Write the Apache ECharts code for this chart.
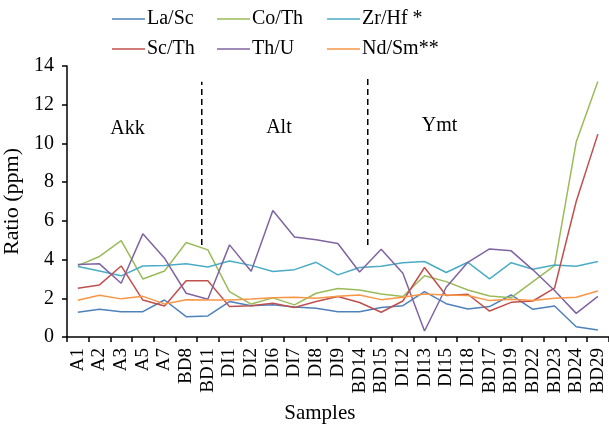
<!DOCTYPE html>
<html>
<head>
<meta charset="utf-8">
<script src="https://cdn.jsdelivr.net/npm/echarts@6/dist/echarts.min.js"></script>
<style>
  html, body { margin: 0; padding: 0; background: #fff; }
  #chart { width: 609px; height: 428px; }
</style>
</head>
<body>
<div id="chart"></div>
<script>
// Sample names along the x axis
const samples = ['A1', 'A2', 'A3', 'A5', 'A7', 'BD8', 'BD11', 'DI1', 'DI2', 'DI6', 'DI7', 'DI8', 'DI9',
  'BD14', 'BD15', 'DI12', 'DI13', 'DI15', 'DI18', 'BD17', 'BD19', 'BD22', 'BD23', 'BD24', 'BD29'];

// Element ratios per sample
const laSc = [1.28, 1.43, 1.31, 1.31, 1.91, 1.05, 1.09, 1.83, 1.62, 1.66, 1.55, 1.48, 1.31, 1.31, 1.52, 1.62, 2.34, 1.72, 1.45, 1.57, 2.17, 1.43, 1.60, 0.53, 0.36];
const coTh = [3.69, 4.16, 4.98, 3.00, 3.41, 4.88, 4.50, 2.34, 1.70, 2.02, 1.66, 2.26, 2.50, 2.43, 2.22, 2.09, 3.16, 2.86, 2.43, 2.12, 2.03, 2.86, 3.69, 10.07, 13.20];
const zrHf = [3.64, 3.41, 3.16, 3.67, 3.69, 3.79, 3.62, 3.93, 3.70, 3.38, 3.48, 3.86, 3.21, 3.59, 3.66, 3.84, 3.90, 3.33, 3.86, 3.00, 3.84, 3.50, 3.72, 3.66, 3.90];
const scTh = [2.52, 2.69, 3.67, 1.91, 1.60, 2.91, 2.91, 1.57, 1.62, 1.74, 1.52, 1.83, 2.09, 1.78, 1.28, 1.86, 3.59, 2.14, 2.21, 1.34, 1.79, 1.86, 2.52, 7.00, 10.48];
const thU  = [3.74, 3.78, 2.78, 5.33, 4.07, 2.26, 1.95, 4.76, 3.40, 6.53, 5.17, 5.02, 4.83, 3.36, 4.53, 3.29, 0.31, 2.57, 3.86, 4.55, 4.45, 3.47, 2.40, 1.22, 2.10];
const ndSm = [1.90, 2.16, 1.97, 2.10, 1.71, 1.93, 1.91, 1.91, 1.96, 2.03, 2.05, 2.00, 2.10, 2.17, 1.93, 2.05, 2.22, 2.17, 2.14, 1.88, 1.95, 1.88, 2.00, 2.05, 2.38];

// Y axis ticks
const yTicks = { min: 0, max: 14, step: 2 };

// Group dividers (position in category units, y span) and group names
const dividerX = [6.22, 13.88];
const dividerTop = [13.19, 13.38];
const dividerBottom = [4.75, 4.75];
const groupNames = ['Akk', 'Alt', 'Ymt'];
const groupX = [2.79, 9.78, 17.19];
const groupY = [10.75, 10.82, 10.9];

const serif = "'Liberation Serif', 'DejaVu Serif', serif";

const seriesDefs = [
  { name: 'La/Sc', data: laSc, color: '#4F81BD' },
  { name: 'Co/Th', data: coTh, color: '#9BBB59' },
  { name: 'Zr/Hf *', data: zrHf, color: '#4BACC6' },
  { name: 'Sc/Th', data: scTh, color: '#C0504D' },
  { name: 'Th/U', data: thU, color: '#8064A2' },
  { name: 'Nd/Sm**', data: ndSm, color: '#F79646' }
];

const legendCol = (names, left) => ({
  data: names,
  orient: 'vertical',
  left: left,
  top: 4,
  icon: 'rect',
  itemWidth: 33,
  itemHeight: 1.5,
  itemGap: 10,
  textStyle: { fontFamily: serif, fontSize: 20, color: '#000', lineHeight: 20, padding: [0, 0, 0, -3] }
});

const lineSeries = seriesDefs.map(s => ({
  name: s.name,
  type: 'line',
  data: s.data,
  symbol: 'none',
  color: s.color,
  itemStyle: { color: s.color },
  lineStyle: { width: 1.5, color: s.color },
  animation: false
}));

const dividerSeries = dividerX.map((x, i) => ({
  type: 'line',
  xAxisIndex: 1,
  yAxisIndex: 0,
  data: [[x, dividerBottom[i]], [x, dividerTop[i]]],
  symbol: 'none',
  lineStyle: { color: '#000', width: 1.5, type: [6, 4] },
  silent: true,
  animation: false
}));

const groupSeries = {
  type: 'scatter',
  xAxisIndex: 1,
  yAxisIndex: 0,
  symbolSize: 1,
  itemStyle: { opacity: 0 },
  data: groupNames.map((n, i) => ({ name: n, value: [groupX[i], groupY[i]] })),
  label: {
    show: true,
    position: 'inside',
    formatter: p => p.name,
    fontFamily: serif,
    fontSize: 20,
    color: '#000',
    opacity: 1,
    textBorderWidth: 0
  },
  silent: true,
  animation: false
};

const chart = echarts.init(document.getElementById('chart'), null, { renderer: 'canvas' });
chart.setOption({
  backgroundColor: '#fff',
  animation: false,
  legend: [
    legendCol(['La/Sc', 'Sc/Th'], 107),
    legendCol(['Co/Th', 'Th/U'], 212),
    legendCol(['Zr/Hf *', 'Nd/Sm**'], 322)
  ],
  grid: { left: 67, top: 66, width: 541.7, height: 271, containLabel: false, outerBoundsMode: 'none' },
  xAxis: [
    {
      type: 'category',
      data: samples,
      boundaryGap: true,
      name: 'Samples',
      nameLocation: 'middle',
      nameGap: 66,
      nameTextStyle: { fontFamily: serif, fontSize: 21, color: '#000', padding: [0, 36, 0, 0] },
      axisLine: { lineStyle: { color: '#000', width: 1.5 } },
      axisTick: { show: true, length: 5, inside: false, lineStyle: { color: '#000', width: 1.5 } },
      axisLabel: { rotate: 90, margin: 11, interval: 0, fontFamily: serif, fontSize: 19, color: '#000' },
      splitLine: { show: false }
    },
    {
      type: 'value',
      min: 0,
      max: samples.length,
      show: false
    }
  ],
  yAxis: {
    type: 'value',
    min: yTicks.min,
    max: yTicks.max,
    interval: yTicks.step,
    name: 'Ratio (ppm)',
    nameLocation: 'middle',
    nameGap: 40,
    nameRotate: 90,
    nameTextStyle: { fontFamily: serif, fontSize: 22, color: '#000' },
    axisLine: { show: true, lineStyle: { color: '#000', width: 1.5 } },
    axisTick: { show: true, length: 5, inside: false, lineStyle: { color: '#000', width: 1.5 } },
    axisLabel: { margin: 13, fontFamily: serif, fontSize: 20, color: '#000' },
    splitLine: { show: false }
  },
  series: [...lineSeries, ...dividerSeries, groupSeries]
});
</script>
</body>
</html>
